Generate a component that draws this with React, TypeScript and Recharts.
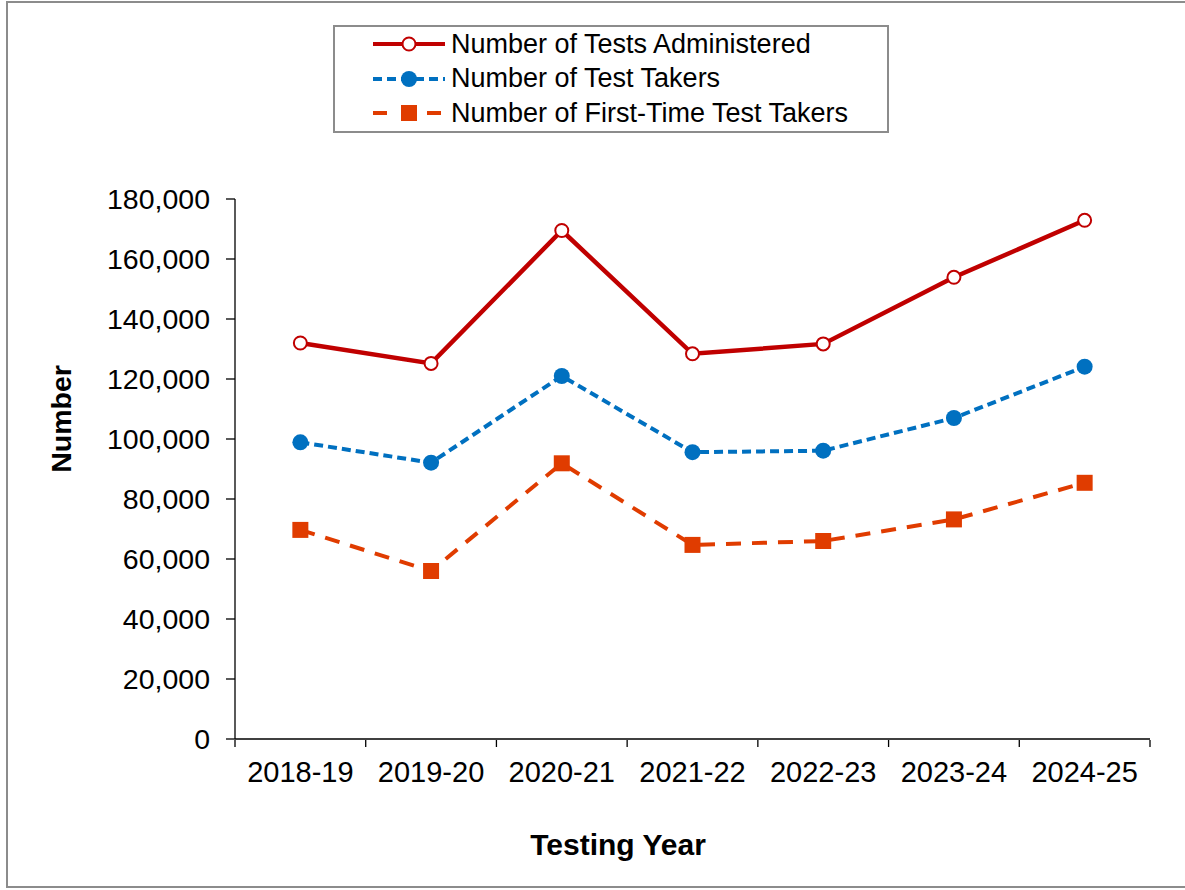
import { LineChart, Line, XAxis, YAxis, Legend, Label } from "recharts";

const years = ["2018-19", "2019-20", "2020-21", "2021-22", "2022-23", "2023-24", "2024-25"];
const testsAdministered = [132000, 125200, 169500, 128400, 131700, 153900, 172900];
const testTakers = [98900, 92100, 121000, 95600, 96100, 107000, 124100];
const firstTimeTakers = [69700, 56000, 91900, 64700, 66000, 73200, 85400];
const yTicks = [0, 20000, 40000, 60000, 80000, 100000, 120000, 140000, 160000, 180000];
const edgeTicks = [0, 1, 2, 3, 4, 5, 6, 7];

const data = years.map((year, i) => ({
  year,
  pos: i + 0.5,
  administered: testsAdministered[i],
  takers: testTakers[i],
  firstTime: firstTimeTakers[i],
}));

const RED = "#C00000";
const BLUE = "#0070C0";
const ORANGE = "#E03C00";
const FONT = "Arial, 'Liberation Sans', sans-serif";

const SquareDot = (props: any) => {
  const { cx, cy } = props;
  if (cx == null || cy == null) return null;
  return <rect x={cx - 8} y={cy - 8} width={16} height={16} fill={ORANGE} />;
};

const legendRows = [
  { label: "Number of Tests Administered", color: RED, dash: undefined, marker: "hollow" },
  { label: "Number of Test Takers", color: BLUE, dash: "9 5", marker: "dot" },
  { label: "Number of First-Time Test Takers", color: ORANGE, dash: "14 13", marker: "square" },
];

const LegendBox = () => (
  <div
    style={{
      boxSizing: "border-box",
      width: 556,
      height: 108,
      border: "2px solid #8c8c8c",
      background: "#fff",
      fontFamily: FONT,
    }}
  >
    {legendRows.map((r) => (
      <div key={r.label} style={{ display: "flex", alignItems: "center", height: 34.5 }}>
        <svg width={116} height={30} style={{ flex: "none" }}>
          <line x1={38} x2={110} y1={15} y2={15} stroke={r.color} strokeWidth={4} strokeDasharray={r.dash} />
          {r.marker === "hollow" && <circle cx={74} cy={15} r={6.5} fill="#fff" stroke={r.color} strokeWidth={2} />}
          {r.marker === "dot" && <circle cx={74} cy={15} r={8} fill={r.color} />}
          {r.marker === "square" && (
            <>
              <rect x={62} y={5} width={24} height={20} fill="#fff" />
              <rect x={66} y={7} width={16} height={16} fill={r.color} />
            </>
          )}
        </svg>
        <span style={{ fontSize: 27, color: "#000", whiteSpace: "nowrap" }}>{r.label}</span>
      </div>
    ))}
  </div>
);

export default function App() {
  return (
    <div style={{ position: "absolute", left: 0, top: 0, width: 1185, height: 890, background: "#fff", overflow: "hidden" }}>
      <div
        style={{
          position: "absolute",
          left: 6,
          top: 1,
          width: 1200,
          height: 887,
          border: "2px solid #8c8c8c",
          boxSizing: "border-box",
        }}
      />
      <div style={{ position: "absolute", left: 0, top: 0 }}>
        <LineChart width={1185} height={890} data={data} margin={{ top: 199, right: 35, bottom: 149, left: 0 }}>
          <XAxis
            dataKey="year"
            scale="band"
            height={1}
            axisLine={{ stroke: "#000", strokeWidth: 1.3 }}
            tickLine={false}
            tickSize={0}
            tickMargin={22}
            tick={{ fill: "#000", fontSize: 29, fontFamily: FONT }}
            interval={0}
          >
            <Label
              content={() => (
                <text x={618} y={855} textAnchor="middle" fontSize={30} fontWeight="bold" fontFamily={FONT} fill="#000">
                  Testing Year
                </text>
              )}
            />
          </XAxis>
          <XAxis
            xAxisId="edges"
            type="number"
            dataKey="pos"
            domain={[0, 7]}
            ticks={edgeTicks}
            allowDataOverflow
            axisLine={false}
            tickLine={{ stroke: "#000", strokeWidth: 1.3 }}
            tickSize={7}
            tickFormatter={() => ""}
            height={1}
          />
          <YAxis
            width={235}
            domain={[0, 180000]}
            ticks={yTicks}
            interval={0}
            axisLine={{ stroke: "#000", strokeWidth: 1.3 }}
            tickLine={{ stroke: "#000", strokeWidth: 1.3 }}
            tickSize={9}
            tickMargin={16}
            tick={{ fill: "#000", fontSize: 28.5, fontFamily: FONT }}
            tickFormatter={(v: number) => v.toLocaleString("en-US")}
          >
            <Label
              content={() => (
                <text
                  x={71}
                  y={419}
                  transform="rotate(-90 71 419)"
                  textAnchor="middle"
                  fontSize={28.5}
                  fontWeight="bold"
                  fontFamily={FONT}
                  fill="#000"
                >
                  Number
                </text>
              )}
            />
          </YAxis>
          <Legend
            layout="horizontal"
            verticalAlign="middle"
            align="center"
            wrapperStyle={{ left: 333, top: 25, width: 556, height: 108 }}
            content={() => <LegendBox />}
          />
          <Line
            dataKey="administered"
            stroke={RED}
            strokeWidth={4.5}
            dot={{ r: 6.5, fill: "#fff", stroke: RED, strokeWidth: 2 }}
            activeDot={false}
            isAnimationActive={false}
          />
          <Line
            dataKey="takers"
            stroke={BLUE}
            strokeWidth={4}
            strokeDasharray="9 5"
            dot={{ r: 8, fill: BLUE, stroke: BLUE, strokeWidth: 0 }}
            activeDot={false}
            isAnimationActive={false}
          />
          <Line
            dataKey="firstTime"
            stroke={ORANGE}
            strokeWidth={4}
            strokeDasharray="15 11"
            dot={<SquareDot />}
            activeDot={false}
            isAnimationActive={false}
          />
        </LineChart>
      </div>
    </div>
  );
}
